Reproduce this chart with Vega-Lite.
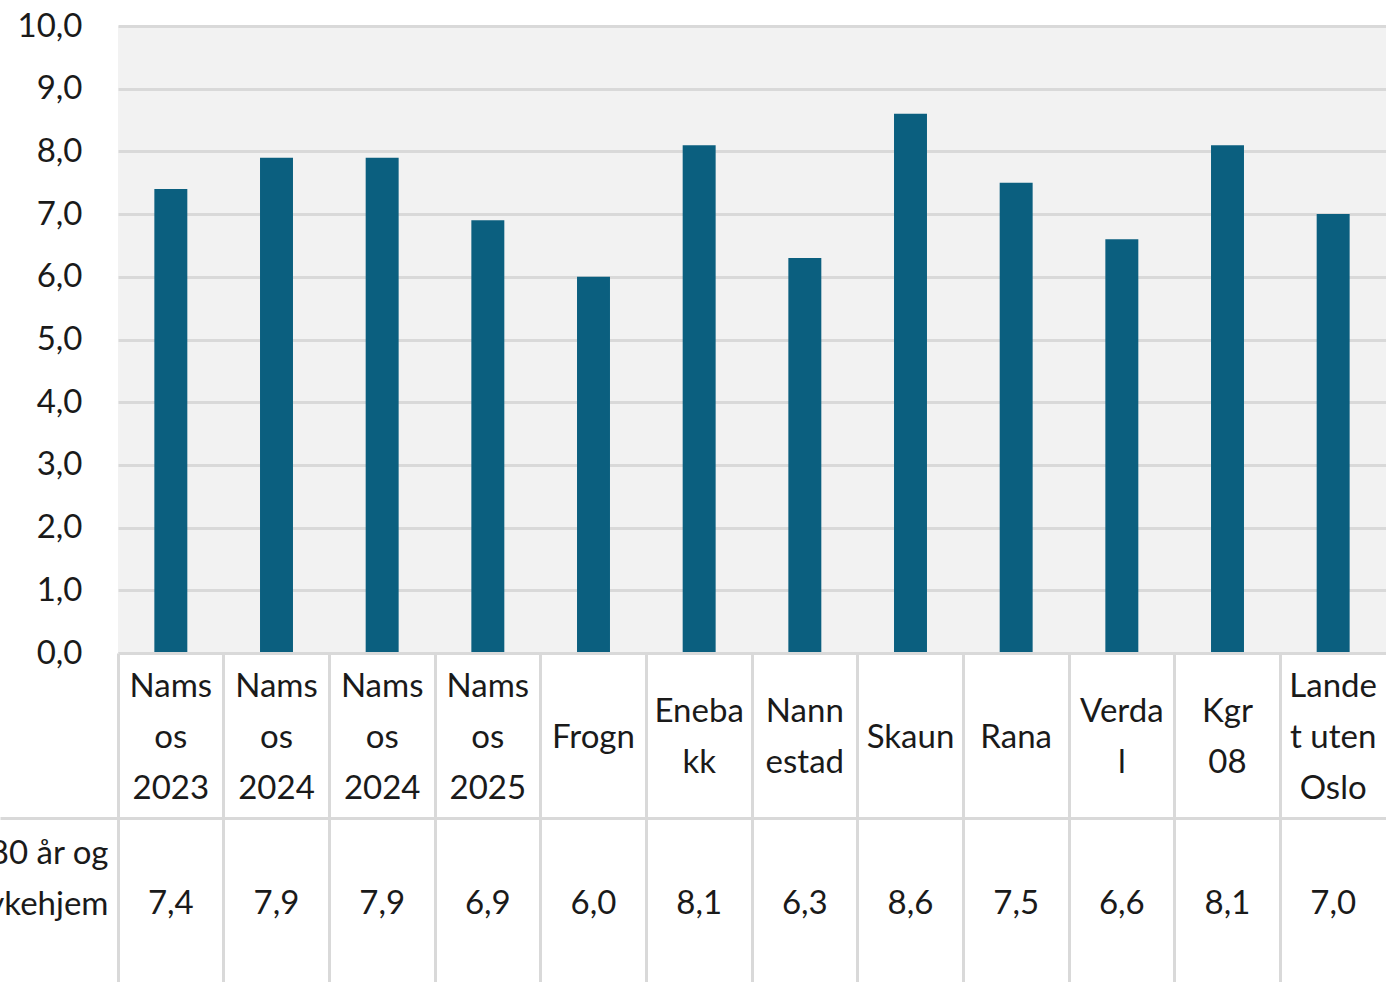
{
  "$schema": "https://vega.github.io/schema/vega-lite/v6.json",
  "background": "white",
  "padding": {"left": -28, "top": 10, "right": 0, "bottom": 0},
  "spacing": 0,
  "bounds": "flush",
  "config": {
    "locale": {"number": {"decimal": ",", "thousands": " ", "grouping": [3], "currency": ["", " kr"]}},
    "font": "Lato",
    "axis": {"labelFont": "Lato", "labelColor": "#1a1a1a"},
    "text": {"font": "Lato", "color": "#1a1a1a"}
  },
  "data": {
    "values": [
      {"nr": 1, "kommune": "Namsos 2023", "linjer": ["Nams", "os", "2023"], "verdi": 7.4},
      {"nr": 2, "kommune": "Namsos 2024", "linjer": ["Nams", "os", "2024"], "verdi": 7.9},
      {"nr": 3, "kommune": "Namsos 2024", "linjer": ["Nams", "os", "2024"], "verdi": 7.9},
      {"nr": 4, "kommune": "Namsos 2025", "linjer": ["Nams", "os", "2025"], "verdi": 6.9},
      {"nr": 5, "kommune": "Frogn", "linjer": ["Frogn"], "verdi": 6.0},
      {"nr": 6, "kommune": "Enebakk", "linjer": ["Eneba", "kk"], "verdi": 8.1},
      {"nr": 7, "kommune": "Nannestad", "linjer": ["Nann", "estad"], "verdi": 6.3},
      {"nr": 8, "kommune": "Skaun", "linjer": ["Skaun"], "verdi": 8.6},
      {"nr": 9, "kommune": "Rana", "linjer": ["Rana"], "verdi": 7.5},
      {"nr": 10, "kommune": "Verdal", "linjer": ["Verda", "l"], "verdi": 6.6},
      {"nr": 11, "kommune": "Kgr 08", "linjer": ["Kgr", "08"], "verdi": 8.1},
      {"nr": 12, "kommune": "Landet uten Oslo", "linjer": ["Lande", "t uten", "Oslo"], "verdi": 7.0}
    ]
  },
  "vconcat": [
    {
      "width": 1268,
      "height": 627,
      "view": {"fill": "#f2f2f2", "stroke": null},
      "mark": {"type": "bar", "width": {"band": 0.312}, "color": "#0b5f7f"},
      "encoding": {
        "x": {"field": "nr", "type": "ordinal", "scale": {"type": "band", "paddingInner": 0, "paddingOuter": 0}, "axis": null},
        "y": {
          "field": "verdi", "type": "quantitative",
          "scale": {"domain": [0, 10], "nice": false, "zero": true},
          "axis": {
            "title": null, "values": [0, 1, 2, 3, 4, 5, 6, 7, 8, 9, 10], "format": ".1f",
            "labelFontSize": 33, "labelPadding": 36, "ticks": false, "domain": false,
            "grid": true, "gridColor": "#d9d9d9", "gridWidth": 3
          }
        }
      }
    },
    {
      "width": 1268,
      "height": 330,
      "view": {"fill": "white", "stroke": null},
      "layer": [
        {
          "transform": [{"filter": "length(datum.linjer) == 3"}],
          "mark": {"type": "text", "fontSize": 33, "lineHeight": 51, "baseline": "middle", "align": "center", "dy": -49},
          "encoding": {
            "x": {"field": "nr", "type": "ordinal"},
            "y": {"datum": "navn", "type": "nominal"},
            "text": {"field": "linjer"}
          }
        },
        {
          "transform": [{"filter": "length(datum.linjer) == 2"}],
          "mark": {"type": "text", "fontSize": 33, "lineHeight": 51, "baseline": "middle", "align": "center", "dy": -23.5},
          "encoding": {
            "x": {"field": "nr", "type": "ordinal"},
            "y": {"datum": "navn", "type": "nominal"},
            "text": {"field": "linjer"}
          }
        },
        {
          "transform": [{"filter": "length(datum.linjer) == 1"}],
          "mark": {"type": "text", "fontSize": 33, "lineHeight": 51, "baseline": "middle", "align": "center", "dy": 2},
          "encoding": {
            "x": {"field": "nr", "type": "ordinal"},
            "y": {"datum": "navn", "type": "nominal"},
            "text": {"field": "linjer"}
          }
        },
        {
          "mark": {"type": "text", "fontSize": 33, "baseline": "middle", "align": "center", "dy": 3},
          "encoding": {
            "x": {"field": "nr", "type": "ordinal"},
            "y": {"datum": "verdi", "type": "nominal"},
            "text": {"field": "verdi", "type": "quantitative", "format": ".1f"}
          }
        }
      ],
      "encoding": {
        "x": {
          "field": "nr", "type": "ordinal",
          "scale": {"type": "band", "paddingInner": 0, "paddingOuter": 0},
          "axis": {
            "orient": "top", "title": null, "labels": false, "ticks": false, "domain": false,
            "grid": true, "bandPosition": 0, "gridColor": "#d9d9d9", "gridWidth": 3
          }
        },
        "y": {
          "type": "nominal",
          "scale": {"type": "band", "domain": ["navn", "verdi"], "paddingInner": 0, "paddingOuter": 0},
          "axis": {
            "title": null, "domain": false, "grid": true, "bandPosition": 0,
            "gridColor": "#d9d9d9", "gridWidth": 3,
            "ticks": true, "tickSize": 118, "tickColor": "#d9d9d9", "tickWidth": 3,
            "tickOpacity": {"condition": {"test": "datum.value === 'navn'", "value": 0}, "value": 1},
            "labelExpr": "datum.value === 'verdi' ? ['80 år og', 'sykehjem'] : ''",
            "labelFontSize": 33, "labelLineHeight": 51, "labelPadding": -108,
            "labelOffset": -47, "labelAlign": "right", "labelBaseline": "middle"
          }
        }
      }
    }
  ]
}
